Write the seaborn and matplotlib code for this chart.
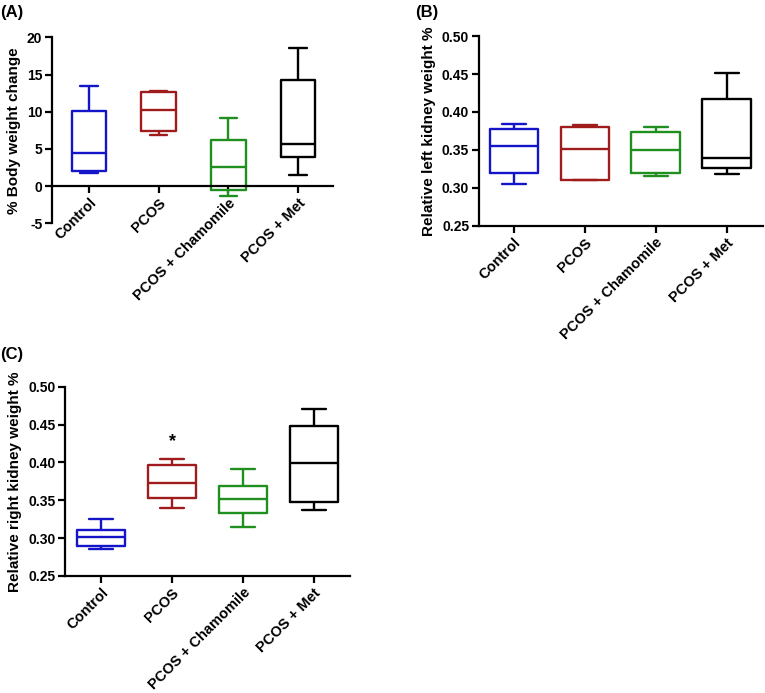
import numpy as np
import pandas as pd
import matplotlib
matplotlib.use("Agg")
import matplotlib.pyplot as plt
import seaborn as sns

# groups and colours
groups = ["Control", "PCOS", "PCOS + Chamomile", "PCOS + Met"]
colors = ["#1414C8", "#A01C1C", "#1F8F1F", "#000000"]

# five-number summaries: min, q1, median, q3, max
body_weight = [
    [1.7, 2.0, 4.5, 10.1, 13.4],
    [6.9, 7.4, 10.2, 12.7, 12.8],
    [-1.3, -0.6, 2.6, 6.2, 9.2],
    [1.5, 3.9, 5.7, 14.3, 18.6],
]
left_kidney = [
    [0.305, 0.320, 0.355, 0.377, 0.384],
    [0.310, 0.311, 0.351, 0.380, 0.383],
    [0.316, 0.320, 0.350, 0.373, 0.380],
    [0.318, 0.326, 0.340, 0.417, 0.451],
]
right_kidney = [
    [0.286, 0.290, 0.301, 0.310, 0.325],
    [0.340, 0.353, 0.373, 0.396, 0.404],
    [0.314, 0.333, 0.352, 0.369, 0.391],
    [0.337, 0.347, 0.399, 0.448, 0.470],
]
star_y = 0.427

sns.set_style("ticks")
plt.rcParams["font.family"] = ["Liberation Sans", "DejaVu Sans"]
plt.rcParams["font.weight"] = "bold"
plt.rcParams["axes.labelweight"] = "bold"
for k in ["text.color", "axes.labelcolor", "xtick.color", "ytick.color", "axes.edgecolor"]:
    plt.rcParams[k] = "black"


def to_frame(summary):
    # with 5 points, linear percentiles give exactly these quartiles
    rows = []
    for g, vals in zip(groups, summary):
        for v in vals:
            rows.append({"Groupe": g, "Valeur": v})
    return pd.DataFrame(rows)


def draw_panel(ax, summary, ylabel, ylim, yticks, fmt, width, xlim, zero_axis=False):
    df = to_frame(summary)
    sns.boxplot(data=df, x="Groupe", y="Valeur", hue="Groupe", palette=colors,
                order=groups, hue_order=groups, whis=(0, 100), fill=False,
                width=width, linewidth=1.7, legend=False, ax=ax, showfliers=False)
    for s in ["top", "right"]:
        ax.spines[s].set_visible(False)
    for s in ["left", "bottom"]:
        ax.spines[s].set_linewidth(1.6)
        ax.spines[s].set_color("black")
    if zero_axis:
        # axe des x sur y = 0 (avant de poser les étiquettes, sinon elles sont remises à zéro)
        ax.spines["bottom"].set_position(("data", 0))
    ax.set_ylim(*ylim)
    ax.set_xlim(*xlim)
    ax.set_yticks(yticks)
    ax.set_yticklabels([fmt.format(t) for t in yticks], fontsize=10, fontweight="bold")
    ax.set_xticks(range(len(groups)))
    ax.set_xticklabels(groups, rotation=45, ha="right", rotation_mode="anchor",
                       fontsize=10.5, fontweight="bold")
    ax.set_xlabel("")
    ax.set_ylabel(ylabel, fontsize=11, fontweight="bold")
    ax.tick_params(axis="both", width=1.6, length=5, colors="black", pad=2)


fig = plt.figure(figsize=(7.65, 6.93), dpi=100)
axA = fig.add_axes([0.068, 0.678, 0.367, 0.268])
axB = fig.add_axes([0.626, 0.674, 0.372, 0.274])
axC = fig.add_axes([0.085, 0.169, 0.3725, 0.273])

draw_panel(axA, body_weight, "% Body weight change", (-5, 20), [-5, 0, 5, 10, 15, 20],
           "{:g}", 0.5, (-0.53, 3.5), zero_axis=True)
draw_panel(axB, left_kidney, "Relative left kidney weight %", (0.25, 0.50),
           [0.25, 0.30, 0.35, 0.40, 0.45, 0.50], "{:.2f}", 0.68, (-0.49, 3.52))
draw_panel(axC, right_kidney, "Relative right kidney weight %", (0.25, 0.50),
           [0.25, 0.30, 0.35, 0.40, 0.45, 0.50], "{:.2f}", 0.68, (-0.51, 3.51))

axC.text(1, star_y, "*", ha="center", va="center", fontsize=13, fontweight="bold")

fig.text(0.0, 0.993, "(A)", fontsize=12, fontweight="bold", va="top")
fig.text(0.543, 0.993, "(B)", fontsize=12, fontweight="bold", va="top")
fig.text(0.0, 0.5, "(C)", fontsize=12, fontweight="bold", va="top")

fig.savefig("out.png", dpi=100)
